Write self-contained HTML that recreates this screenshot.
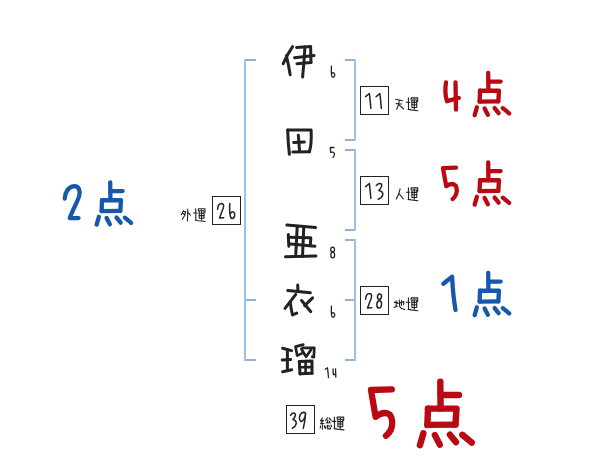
<!DOCTYPE html>
<html lang="ja"><head><meta charset="utf-8"><title>姓名判断</title>
<style>
html,body{margin:0;padding:0;background:#fff;font-family:"Liberation Sans",sans-serif;}
svg{display:block}
</style></head><body>
<svg role="img" aria-label="姓名判断 伊田亜衣瑠" width="600" height="470" viewBox="0 0 600 470" fill="none" stroke-linecap="round" stroke-linejoin="round">
<title>姓名判断</title><desc>伊6 田5 亜8 衣6 瑠14 / 天運11 4点 / 人運13 5点 / 地運28 1点 / 外運26 2点 / 総運39 5点</desc>
<rect width="600" height="470" fill="#fff" stroke="none"/>
<defs>
<g id="ten">
<path d="M488.2,72.8 L488.4,90.75"/>
<path d="M488.4,81.6 L500.6,81.6"/>
<path d="M480,90.75 L479.6,101.6"/>
<path d="M480,90.75 L499,90.75 L498.3,101.4"/>
<path d="M479.6,101.6 L498.3,101.4"/>
<path d="M476.9,107.25 L474.65,115.1"/>
<path d="M484.6,108.4 L487.85,114.75"/>
<path d="M494.6,108.15 L498.65,113.1"/>
<path d="M502.85,108.2 L509.15,113.4"/>
</g>
<g id="un">
<path d="M0,0 L0.15,11.2"/>
<path d="M-2.1,4.3 L1.4,4.3"/>
<path d="M-0.3,11.5 L2.9,12 L9.6,12.8"/>
<path d="M2.7,2.1 L2.7,0 L9.3,0 L9.3,3.5"/>
<path d="M3.5,2.1 H8.3 V9.6 H3.5 Z"/>
<path d="M3.5,4.5 H8.3 M3.5,6.9 H8.3"/>
<path d="M5.9,1.1 V11.2"/>
</g>
<g id="six">
<path d="M331.4,66.2 C331.2,70 331.2,73 331.7,75.6 C332.2,78 334.2,77.8 334.7,75.4 C335,73 333.2,71.8 331.8,73.6"/>
</g>
</defs>

<g stroke="#94b2d0" stroke-width="1.8" stroke-linecap="butt" stroke-linejoin="miter">
<path d="M244,60 H256 M244,300 H256 M244,360 H256"/>
<path d="M345,60 H356 M345,140 H356 M345,150 H356 M345,230 H356 M345,240 H356 M345,300 H356 M345,360 H356"/>
</g>
<g stroke="#9cc2e4" stroke-width="2" stroke-linecap="butt" stroke-linejoin="miter">
<path d="M245,59.1 V360.9"/>
<path d="M355,59.1 V140.9 M355,149.1 V230.9 M355,239.1 V360.9"/>
</g>
<g stroke="#222" stroke-width="1" stroke-linejoin="miter">
<rect x="360.5" y="86.5" width="28" height="28"/>
<rect x="360.5" y="176.5" width="28" height="28"/>
<rect x="360.5" y="286.5" width="28" height="28"/>
<rect x="212.5" y="196.5" width="28" height="28"/>
<rect x="286.5" y="405.5" width="28" height="28"/>
</g>
<g stroke="#222" stroke-width="3">
<path d="M292.6,46.7 Q287.5,54 283.2,63.7"/>
<path d="M286.4,55.6 Q288.6,65 290.2,74.8"/>
<path d="M296.6,47.5 L310.6,46.4 L311,62.4"/>
<path d="M294.5,57.7 L314,55.6"/>
<path d="M297,63.7 L311,62.4"/>
<path d="M304.9,47 Q304.2,62 302.6,77"/>
<path d="M287.7,130.1 Q288,143 289.4,154.3"/>
<path d="M287.7,130.1 L311.1,130.1 Q311.8,144 309.4,151.8"/>
<path d="M293.6,142.4 L304.3,142"/>
<path d="M298.3,135.2 L299.6,151.4"/>
<path d="M292.8,152 L309.4,151.8"/>
<path d="M286.9,225.1 L315.5,227.5"/>
<path d="M285.5,256.7 L315.9,256"/>
<path d="M297.2,227 L295.8,254.2"/>
<path d="M303.7,228 L302.5,256.5"/>
<path d="M288.3,234.5 L288.8,246.2"/>
<path d="M288.3,237.3 L310.8,237.8 L310.3,245.7"/>
<path d="M290.6,243.9 L315,246.2"/>
<path d="M297.7,285 L297.9,290.6"/>
<path d="M287.8,290.6 L310.3,292.8"/>
<path d="M295.8,294.4 Q290,302 285,308.4"/>
<path d="M290.2,301.9 Q291,309 292.5,315 L296.7,313.1"/>
<path d="M312.6,297.9 L304.7,305.6"/>
<path d="M301.6,300.5 L310.8,311.7"/>
<path d="M282.7,348.3 L291.6,350.6"/>
<path d="M287.4,349.7 L287.4,370.8"/>
<path d="M282.2,360 L290.6,359.5"/>
<path d="M282.7,371.7 L291.6,369.8"/>
<path d="M303.3,344.6 L295.5,346.6 L297.2,355.6 L301.9,353.4" stroke-width="2.7"/>
<path d="M301.4,349 L306.1,356.7 L311,349.7" stroke-width="2.7"/>
<path d="M302.8,347.8 L314.3,347.8 L313.8,357.2 L312.2,356.7" stroke-width="2.7"/>
<path d="M299.3,361.4 L300,374" stroke-width="3"/>
<path d="M299.3,361.4 L312,361 L312,373.2" stroke-width="3"/>
<path d="M299.5,367.3 L312,367.1" stroke-width="2.6"/>
<path d="M305.6,361 L305.6,373.4" stroke-width="2.6"/>
<path d="M300,373.7 L312,373.2" stroke-width="3"/>
</g>
<g stroke="#222" stroke-width="1.3">
<use href="#six"/>
<use href="#six" transform="translate(0,240)"/>
<path d="M334,147.5 L330.3,147.5 L330.7,152.5 Q333.5,151.2 334.4,153.6 Q334.6,156 333,157.5"/>
<ellipse cx="332.6" cy="249.6" rx="1.9" ry="2.4"/>
<ellipse cx="332.7" cy="255" rx="1.9" ry="2.9"/>
<path d="M325.3,369.3 L327.5,367.8 L328.5,377.5"/>
<path d="M333,368.8 L333.3,374.5 L336,374.3 M335.5,368.8 L335.8,377"/>
</g>
<g stroke="#222" stroke-width="1.5">
<path d="M365.6,96.6 L369.4,93.5 L370.9,108.4"/>
<path d="M376.1,96.6 L379.9,93.5 L381.4,108.4"/>
<path d="M365.6,186.6 L369.4,183.5 L370.9,198.4"/>
<path d="M376.3,185.4 Q379,182.6 381.3,184 Q382.8,186.3 378.8,190.4 Q383.2,191.3 382.8,194.6 Q382,198 378.2,199.2"/>
<path d="M365.6,299.2 Q366.09999999999997,293.5 369.4,293.5 Q372.5,294 371.3,298.1 L367.5,308.1 L371.7,307.7"/>
<ellipse cx="379.5" cy="296.7" rx="2" ry="2.7" transform="rotate(8 379.5 296.7)"/>
<ellipse cx="379.2" cy="304.4" rx="2.3" ry="3.6" transform="rotate(5 379.2 304.4)"/>
<path d="M217.60000000000002,209.2 Q218.1,203.5 221.39999999999998,203.5 Q224.5,204 223.3,208.10000000000002 L219.5,218.10000000000002 L223.7,217.7"/>
<path d="M229.8,203.5 C229.5,208 229.6,213 230.3,216 C231,219.5 234,219.3 234.7,215.5 C235.2,212 232.3,210 230.4,213.6"/>
<path d="M290.45,415.2 Q292.8,412 295,413.6 Q296.4,415.6 292.9,419.5 Q296.6,420.6 296.2,423.6 Q295.6,426.6 292.3,428.2"/>
<path d="M305.6,413.1 Q302.8,411.2 300.4,414.4 Q298.4,418.5 300.6,421.2 Q303,422.3 305,416.5 L305.6,413.1 Q305.2,421 303.3,428.2"/>
</g>
<g stroke="#222" stroke-width="1.1">
<use href="#un" transform="translate(408.4,97.9)"/>
<use href="#un" transform="translate(408.4,187.9)"/>
<use href="#un" transform="translate(408.4,297.9)"/>
<use href="#un" transform="translate(195.7,208.7)"/>
<use href="#un" transform="translate(334.4,417.1)"/>
<path d="M395.6,99.2 L402.7,100.7 M396.2,103.6 L401.6,104 M399.1,100.7 L398.7,104.6 L396.6,109.2 M399.1,104.8 L403.5,109"/>
<path d="M400.13,188.93 L398.53,194.27 L396.4,199.07 M398.8,193.47 L403.33,198.8"/>
<path d="M394.27,302.4 L397.47,302.4 M396.13,300.8 L396.13,306.67 M394.0,307.47 L397.2,306.13 M399.33,300.0 L399.6,306.4 L401.47,308.53 L404.67,309.6 M397.47,303.47 L403.87,301.6 L403.6,304.8 M401.47,300.53 L401.47,305.33"/>
<path d="M183.47,210.8 L181.33,214.8 M183.47,211.33 L185.6,211.87 L184.8,215.33 L182.4,219.33 M183.2,213.47 L184.53,214.53 M187.73,208.93 L187.47,220.93 M188.0,212.4 L190.4,215.07"/>
<path d="M322.4,417.93 L320.53,420.87 L323.47,420.33 L320.53,423.8 L324.0,423.53 M322.4,423.8 L322.4,429.13 M320.53,425.93 L320.27,428.07 M324.27,425.67 L324.8,427.8 M327.47,417.93 L325.6,420.6 M329.07,417.93 L331.2,420.33 M328.0,420.07 L326.67,423.0 L329.87,422.47 M329.33,421.13 L330.13,423.0 M325.87,426.2 L325.6,428.33 M327.47,425.4 L327.73,428.87 L330.4,428.87 L330.67,427.53 M328.8,425.4 L329.33,426.73 M330.93,425.13 L331.73,426.47"/>
</g>
<g stroke="#b90a13" stroke-width="4.3">
<use href="#ten"/>
<use href="#ten" transform="translate(0,89.5)"/>
<path d="M446,82.3 Q444.4,92 446.9,101.2 L458.8,98"/>
<path d="M455.5,82.3 L456,109.7"/>
<path d="M456,167.6 L443,168.1 L446.2,186.2 Q451.5,182 455.6,185.6 Q458.2,190.5 455.2,196 Q454,198 452.6,199"/>
</g>
<g stroke="#1758aa" stroke-width="4.3">
<use href="#ten" transform="translate(0,200)"/>
<use href="#ten" transform="translate(-378,109.5)"/>
<path d="M443.3,283.7 L452.1,276.8 Q453,295 455.5,310"/>
<path d="M64.8,198.5 C65,192 68.5,186.8 74,186.2 C79,186 80.6,191 79.2,196 C78,200.5 73,209.5 69.7,218.1 L78.5,218.1"/>
</g>
<g stroke="#b90a13" stroke-width="6.3">
<g transform="translate(440,381.25) scale(1.5) translate(-488,-72.5)" stroke-width="4.3"><use href="#ten"/></g>
<path d="M391.8,389.3 L371,390 L375.6,416.9 Q383.5,410.5 389.8,414.6 Q394,421 391,429.5 Q389,433.5 386,435.8"/>
</g>
</svg></body></html>
